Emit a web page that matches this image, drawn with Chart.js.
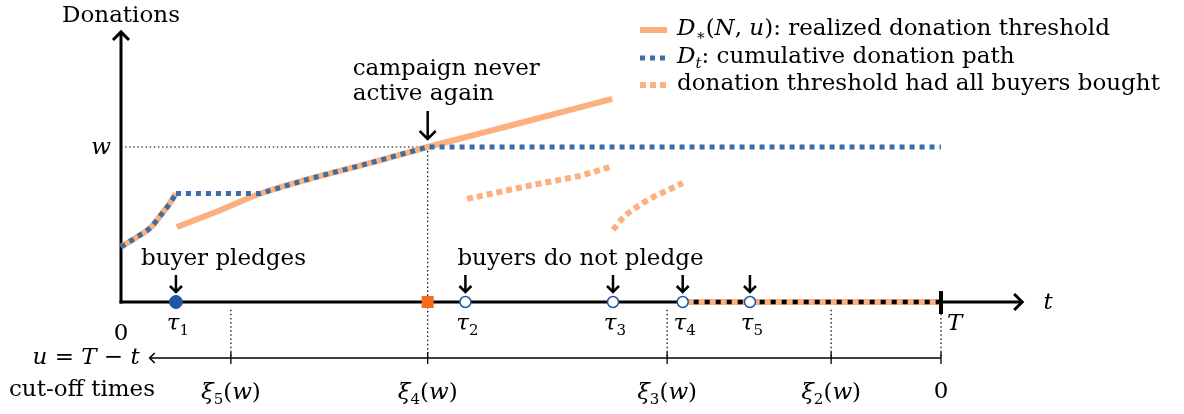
<!DOCTYPE html>
<html>
<head>
<meta charset="utf-8">
<script src="https://cdn.jsdelivr.net/npm/chart.js@4.4.0/dist/chart.umd.min.js"></script>
<style>
  html, body { margin: 0; padding: 0; background: #fff; }
  #wrap { width: 1184px; height: 414px; }
</style>
</head>
<body>
<div id="wrap"><canvas id="diagram"></canvas></div>
<script>
// Horizon and donation target
const T_END = 10;
const W_LEVEL = 1;

// Buyers arriving along the time axis
const buyerNames = ['1', '2', '3', '4', '5'];
const buyerTimes = [0.67, 4.2, 6.0, 6.85, 7.67];
const buyerPledged = [true, false, false, false, false];
const lastActiveTime = 3.74;

// Cut-off times on the u = T - t axis
const cutoffNames = ['5', '4', '3', '2'];
const cutoffTimes = [1.34, 3.74, 6.66, 8.66];

// D_t: cumulative donation path (early rise, then the rest)
const earlyT = [0, 0.18, 0.36, 0.5, 0.6, 0.67];
const earlyD = [0.355, 0.415, 0.48, 0.57, 0.64, 0.70];
const pathT = [0.67, 1.7, 2.3, 3.04, 3.74, 10];
const pathD = [0.70, 0.70, 0.795, 0.897, 1.0, 1.0];

// D*(N,u): realized donation threshold
const thresholdT = [0.68, 1.21, 1.7, 2.3, 3.04, 3.74, 4.87, 5.99];
const thresholdD = [0.484, 0.592, 0.70, 0.795, 0.897, 1.0, 1.155, 1.31];

// donation threshold had all buyers bought
const allBoughtAT = [4.22, 5.02, 5.63, 5.96];
const allBoughtAD = [0.665, 0.755, 0.819, 0.871];
const allBoughtBT = [6.0, 6.12, 6.29, 6.49, 6.70, 6.85];
const allBoughtBD = [0.465, 0.542, 0.613, 0.677, 0.729, 0.768];

// Colours
const ORANGE = '#fdb07f';
const BLUE = '#3b6ea8';
const DOT_BLUE = '#1f58a0';
const SQUARE = '#f46d1a';
const FONT = '"DejaVu Serif"';

// Frame of the drawing (data units)
const Y_TOP = 1.742;
const X_END = 10.99;
const U_AXIS = -0.361;
const U_LEFT = 0.35;
const GUIDE_TOP = -0.05;

const pts = (xs, ys) => xs.map((v, i) => ({ x: v, y: ys[i] }));

function lineSet(data, width, dash, color, order, smooth) {
    return {
        data: data,
        showLine: true,
        borderColor: color,
        borderWidth: width,
        borderDash: dash,
        borderCapStyle: 'butt',
        borderJoinStyle: 'round',
        pointRadius: 0,
        tension: smooth ? 0.4 : 0,
        cubicInterpolationMode: smooth ? 'monotone' : 'default',
        fill: false,
        order: order
    };
}

function drawRich(ctx, parts, x, y, align) {
    const fonts = {
        r: `23px ${FONT}`,
        i: `italic 23px ${FONT}`,
        sr: `15px ${FONT}`,
        si: `italic 15px ${FONT}`
    };
    let total = 0;
    parts.forEach(p => { ctx.font = fonts[p[1]]; total += ctx.measureText(p[0]).width; });
    let cx = align === 'center' ? x - total / 2 : (align === 'right' ? x - total : x);
    ctx.textAlign = 'left';
    ctx.textBaseline = 'alphabetic';
    ctx.fillStyle = '#000';
    const base = y + 7;
    parts.forEach(p => {
        ctx.font = fonts[p[1]];
        const off = p[1][0] === 's' ? 5 : 0;
        ctx.fillText(p[0], cx, base + off);
        cx += ctx.measureText(p[0]).width;
    });
}

function seg(ctx, x1, y1, x2, y2) {
    ctx.beginPath();
    ctx.moveTo(x1, y1);
    ctx.lineTo(x2, y2);
    ctx.stroke();
}

function downArrow(ctx, x, yTop, yTip, head, width) {
    ctx.lineWidth = width;
    ctx.setLineDash([]);
    ctx.strokeStyle = '#000';
    seg(ctx, x, yTop, x, yTip - 1);
    ctx.beginPath();
    ctx.moveTo(x - head, yTip - head);
    ctx.lineTo(x, yTip);
    ctx.lineTo(x + head, yTip - head);
    ctx.stroke();
}

const diagramPlugin = {
    id: 'diagram',
    beforeDatasetsDraw(chart) {
        const { ctx, scales: { x, y } } = chart;
        const px = v => x.getPixelForValue(v);
        const py = v => y.getPixelForValue(v);
        ctx.save();
        ctx.strokeStyle = '#000';

        // dotted guides
        ctx.lineWidth = 1.2;
        ctx.setLineDash([1.5, 2.6]);
        seg(ctx, px(0), py(W_LEVEL), px(lastActiveTime), py(W_LEVEL));
        seg(ctx, px(lastActiveTime), py(W_LEVEL), px(lastActiveTime), py(U_AXIS));
        cutoffTimes.concat([T_END]).forEach(t => {
            if (t !== lastActiveTime) seg(ctx, px(t), py(GUIDE_TOP), px(t), py(U_AXIS));
        });

        // main axes
        ctx.setLineDash([]);
        ctx.lineWidth = 3;
        ctx.lineCap = 'butt';
        seg(ctx, px(0), py(0) + 1.5, px(0), py(Y_TOP) + 1);
        seg(ctx, px(0) - 1.5, py(0), px(X_END) - 1, py(0));
        ctx.lineJoin = 'miter';
        ctx.beginPath();
        ctx.moveTo(px(0) - 8, py(Y_TOP) + 8);
        ctx.lineTo(px(0), py(Y_TOP));
        ctx.lineTo(px(0) + 8, py(Y_TOP) + 8);
        ctx.stroke();
        ctx.beginPath();
        ctx.moveTo(px(X_END) - 8, py(0) - 8);
        ctx.lineTo(px(X_END), py(0));
        ctx.lineTo(px(X_END) - 8, py(0) + 8);
        ctx.stroke();

        // u axis
        ctx.lineWidth = 1.6;
        seg(ctx, px(U_LEFT), py(U_AXIS), px(T_END), py(U_AXIS));
        ctx.beginPath();
        ctx.moveTo(px(U_LEFT) + 5, py(U_AXIS) - 5);
        ctx.lineTo(px(U_LEFT), py(U_AXIS));
        ctx.lineTo(px(U_LEFT) + 5, py(U_AXIS) + 5);
        ctx.stroke();
        ctx.lineWidth = 1.3;
        cutoffTimes.concat([T_END]).forEach(t => seg(ctx, px(t), py(U_AXIS) - 6, px(t), py(U_AXIS) + 6));
        ctx.restore();
    },
    afterDatasetsDraw(chart) {
        const { ctx, scales: { x, y } } = chart;
        const px = v => x.getPixelForValue(v);
        const py = v => y.getPixelForValue(v);
        const y0 = py(0);
        ctx.save();

        // T tick
        ctx.strokeStyle = '#000';
        ctx.lineWidth = 4;
        seg(ctx, px(T_END), y0 - 11, px(T_END), y0 + 12);

        // arrows above buyers and the last activation
        buyerTimes.forEach(t => downArrow(ctx, px(t), y0 - 27, y0 - 10, 6, 2.5));
        downArrow(ctx, px(lastActiveTime), py(W_LEVEL) - 36, py(W_LEVEL) - 8, 8, 2.5);

        // labels
        drawRich(ctx, [['Donations', 'r']], px(0), 15, 'center');
        drawRich(ctx, [['w', 'i']], px(0) - 10, py(W_LEVEL), 'right');
        drawRich(ctx, [['0', 'r']], px(0), y0 + 31, 'center');
        drawRich(ctx, [['T', 'i']], px(T_END) + 6, y0 + 21, 'left');
        drawRich(ctx, [['t', 'i']], px(X_END) + 26, y0, 'center');
        drawRich(ctx, [['campaign never', 'r']], px(lastActiveTime) - 75, py(W_LEVEL) - 79, 'left');
        drawRich(ctx, [['active again', 'r']], px(lastActiveTime) - 75, py(W_LEVEL) - 54, 'left');
        drawRich(ctx, [['buyer pledges', 'r']], px(buyerTimes[0]) - 35, y0 - 44, 'left');
        drawRich(ctx, [['buyers do not pledge', 'r']], px(buyerTimes[1]) - 8, y0 - 44, 'left');

        buyerTimes.forEach((t, i) => {
            drawRich(ctx, [['τ', 'i'], [buyerNames[i], 'sr']], px(t) + 2, y0 + 21, 'center');
        });
        const uy = py(U_AXIS);
        drawRich(ctx, [['u', 'i'], [' = ', 'r'], ['T', 'i'], [' − ', 'r'], ['t', 'i']], px(U_LEFT) - 10, uy - 1, 'right');
        drawRich(ctx, [['cut-off times', 'r']], 82, uy + 31, 'center');
        cutoffTimes.forEach((t, i) => {
            drawRich(ctx, [['ξ', 'i'], [cutoffNames[i], 'sr'], ['(', 'r'], ['w', 'i'], [')', 'r']], px(t), uy + 34, 'center');
        });
        drawRich(ctx, [['0', 'r']], px(T_END), uy + 33, 'center');

        // legend
        const lx = 640, lw = 27, tx = 677;
        const rows = [30, 58, 85];
        ctx.lineCap = 'butt';
        ctx.lineWidth = 6;
        ctx.strokeStyle = ORANGE;
        ctx.setLineDash([]);
        seg(ctx, lx, rows[0], lx + lw, rows[0]);
        ctx.strokeStyle = BLUE;
        ctx.lineWidth = 5;
        ctx.setLineDash([5, 5]);
        seg(ctx, lx, rows[1], lx + lw, rows[1]);
        ctx.strokeStyle = ORANGE;
        ctx.lineWidth = 6;
        ctx.setLineDash([6, 4]);
        seg(ctx, lx, rows[2], lx + lw, rows[2]);
        ctx.setLineDash([]);
        drawRich(ctx, [['D', 'i'], ['∗', 'sr'], ['(', 'r'], ['N', 'i'], [', ', 'r'], ['u', 'i'], ['): realized donation threshold', 'r']], tx, rows[0] - 2, 'left');
        drawRich(ctx, [['D', 'i'], ['t', 'si'], [': cumulative donation path', 'r']], tx, rows[1] - 2, 'left');
        drawRich(ctx, [['donation threshold had all buyers bought', 'r']], tx, rows[2] - 2, 'left');
        ctx.restore();
    }
};

const pledgedPts = buyerTimes.filter((t, i) => buyerPledged[i]).map(t => ({ x: t, y: 0 }));
const skippedPts = buyerTimes.filter((t, i) => !buyerPledged[i]).map(t => ({ x: t, y: 0 }));

const datasets = [
    lineSet(pts(thresholdT, thresholdD), 6, [], ORANGE, 9, true),
    lineSet(pts(earlyT, earlyD), 6, [], ORANGE, 9, true),
    lineSet(pts(earlyT, earlyD), 5, [5, 5], BLUE, 8, true),
    lineSet(pts(pathT, pathD), 5, [5, 5], BLUE, 8, false),
    lineSet(pts(allBoughtAT, allBoughtAD), 6, [6, 4], ORANGE, 7, true),
    lineSet(pts(allBoughtBT, allBoughtBD), 6, [6, 4], ORANGE, 7, true),
    lineSet([{ x: buyerTimes[3], y: 0 }, { x: T_END, y: 0 }], 6, [], ORANGE, 6, false),
    lineSet([{ x: buyerTimes[3], y: 0 }, { x: T_END, y: 0 }], 4.5, [5, 6], '#000', 5, false),
    {
        data: pledgedPts,
        pointRadius: 6.5,
        pointBackgroundColor: DOT_BLUE,
        pointBorderColor: DOT_BLUE,
        pointBorderWidth: 1,
        order: 1
    },
    {
        data: skippedPts,
        pointRadius: 5.5,
        pointBackgroundColor: '#fff',
        pointBorderColor: DOT_BLUE,
        pointBorderWidth: 1.5,
        order: 1
    },
    {
        data: [{ x: lastActiveTime, y: 0 }],
        pointStyle: 'rect',
        pointRadius: 8.5,
        pointBackgroundColor: SQUARE,
        pointBorderColor: SQUARE,
        pointBorderWidth: 0,
        order: 1
    }
];

new Chart(document.getElementById('diagram'), {
    type: 'scatter',
    data: { datasets: datasets },
    options: {
        responsive: true,
        maintainAspectRatio: false,
        animation: false,
        events: [],
        layout: { padding: 0, autoPadding: false },
        plugins: { legend: { display: false }, tooltip: { enabled: false } },
        scales: {
            x: { type: 'linear', min: -1.4756, max: 12.9634, display: false },
            y: { type: 'linear', min: -0.7226, max: 1.9484, display: false }
        }
    },
    plugins: [diagramPlugin]
});
</script>
</body>
</html>
